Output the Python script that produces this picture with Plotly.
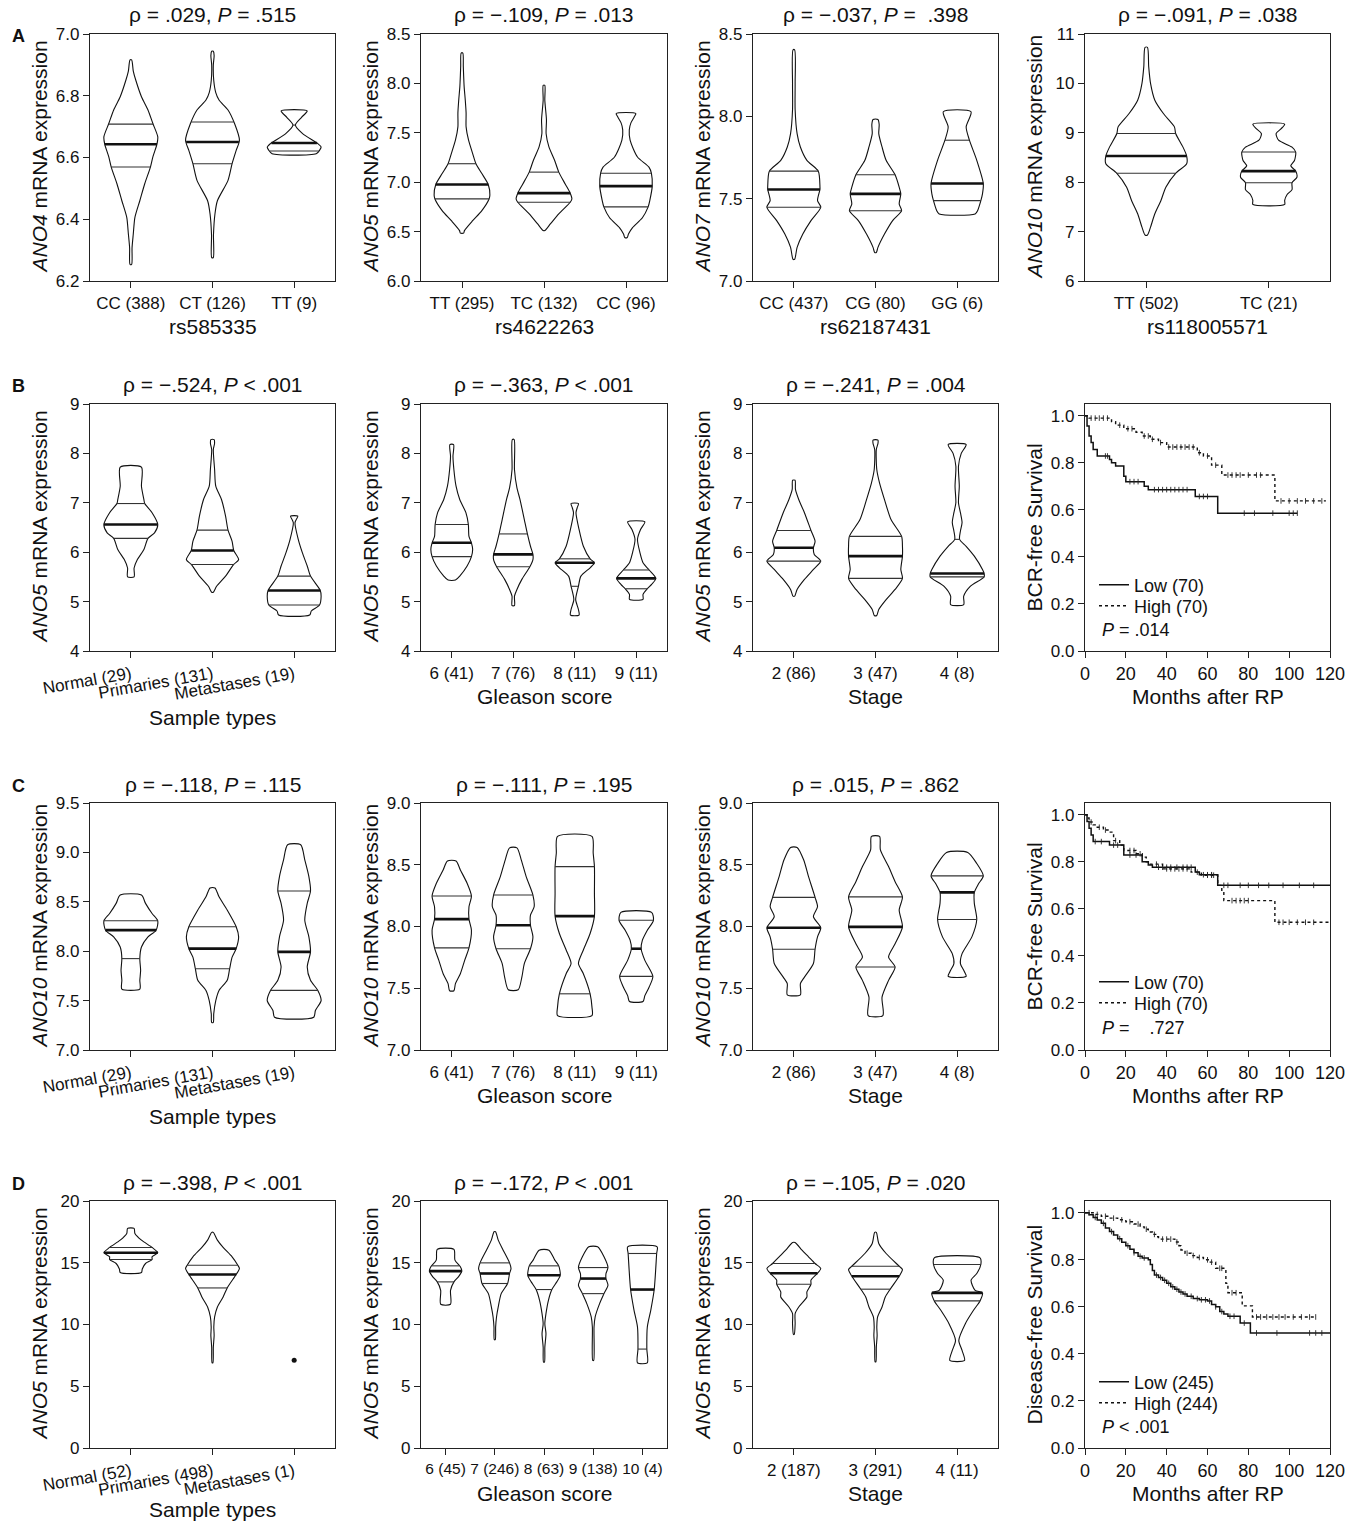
import numpy as np
import plotly.graph_objects as go

# ============================ DATA ============================
# Row A: SNP genotype vs expression (violin profiles: y levels, half-widths, quartiles [Q1, median, Q3])
A1_CATS = ["CC (388)", "CT (126)", "TT (9)"]
A1_Y = [[6.916, 6.88, 6.851, 6.797, 6.754, 6.710, 6.667, 6.643, 6.602, 6.569, 6.515, 6.460, 6.406, 6.352, 6.308, 6.254],
        [6.944, 6.93, 6.90, 6.85, 6.81, 6.786, 6.754, 6.71, 6.656, 6.623, 6.58, 6.526, 6.46, 6.417, 6.35, 6.276],
        [6.751, 6.73, 6.705, 6.678, 6.645, 6.634, 6.623, 6.612]]
A1_W = [[0.01, 0.03, 0.06, 0.13, 0.21, 0.27, 0.33, 0.32, 0.27, 0.24, 0.17, 0.11, 0.05, 0.03, 0.015, 0.01],
        [0.01, 0.02, 0.01, 0.015, 0.04, 0.08, 0.19, 0.27, 0.33, 0.29, 0.24, 0.19, 0.06, 0.03, 0.012, 0.01],
        [0.16, 0.09, 0.015, 0.1, 0.29, 0.33, 0.31, 0.27]]
A1_Q = [[6.569, 6.643, 6.708], [6.580, 6.650, 6.715], [6.621, 6.647, 6.705]]

A2_CATS = ["TT (295)", "TC (132)", "CC (96)"]
A2_Y = [[8.307, 8.17, 7.97, 7.83, 7.70, 7.56, 7.425, 7.29, 7.187, 7.09, 6.977, 6.87, 6.83, 6.71, 6.61, 6.51, 6.485],
        [7.98, 7.83, 7.63, 7.49, 7.357, 7.22, 7.102, 6.98, 6.889, 6.83, 6.797, 6.68, 6.58, 6.51],
        [7.696, 7.66, 7.60, 7.53, 7.425, 7.255, 7.153, 7.09, 6.96, 6.814, 6.75, 6.64, 6.54, 6.475, 6.44]]
A2_W = [[0.01, 0.016, 0.026, 0.04, 0.05, 0.05, 0.08, 0.13, 0.17, 0.24, 0.32, 0.34, 0.33, 0.24, 0.13, 0.03, 0.02],
        [0.01, 0.01, 0.03, 0.026, 0.06, 0.13, 0.18, 0.26, 0.32, 0.34, 0.32, 0.18, 0.08, 0.01],
        [0.12, 0.10, 0.06, 0.04, 0.05, 0.14, 0.28, 0.31, 0.32, 0.29, 0.27, 0.20, 0.08, 0.03, 0.015]]
A2_Q = [[6.831, 6.977, 7.187], [6.797, 6.889, 7.102], [6.75, 6.96, 7.09]]

A3_CATS = ["CC (437)", "CG (80)", "GG (6)"]
A3_Y = [[8.404, 8.20, 8.04, 7.895, 7.814, 7.733, 7.667, 7.57, 7.556, 7.488, 7.448, 7.367, 7.285, 7.204, 7.132],
        [7.981, 7.95, 7.895, 7.814, 7.733, 7.645, 7.57, 7.529, 7.468, 7.427, 7.367, 7.285, 7.204, 7.173],
        [8.028, 7.936, 7.855, 7.733, 7.592, 7.529, 7.488, 7.427, 7.407]]
A3_W = [[0.01, 0.016, 0.016, 0.04, 0.08, 0.16, 0.30, 0.32, 0.32, 0.29, 0.33, 0.21, 0.11, 0.04, 0.01],
        [0.03, 0.045, 0.04, 0.08, 0.13, 0.24, 0.29, 0.31, 0.29, 0.32, 0.21, 0.11, 0.03, 0.01],
        [0.17, 0.11, 0.15, 0.24, 0.32, 0.31, 0.29, 0.25, 0.22]]
A3_Q = [[7.448, 7.556, 7.667], [7.427, 7.529, 7.645], [7.488, 7.592, 7.855]]

A4_CATS = ["TT (502)", "TC (21)"]
A4_Y = [[10.73, 10.34, 10.0, 9.66, 9.39, 9.12, 8.985, 8.71, 8.53, 8.374, 8.18, 7.90, 7.63, 7.36, 7.09, 6.93],
        [9.175, 9.08, 8.985, 8.85, 8.71, 8.61, 8.44, 8.33, 8.225, 8.10, 7.99, 7.85, 7.75, 7.63, 7.55]]
A4_W = [[0.01, 0.02, 0.035, 0.07, 0.14, 0.23, 0.24, 0.30, 0.33, 0.33, 0.24, 0.16, 0.12, 0.07, 0.035, 0.01],
        [0.13, 0.10, 0.06, 0.08, 0.19, 0.22, 0.21, 0.18, 0.22, 0.23, 0.19, 0.19, 0.15, 0.13, 0.13]]
A4_Q = [[8.18, 8.53, 8.985], [7.99, 8.225, 8.61]]

# Row B: ANO5 (dataset 1)
B1_CATS = ["Normal (29)", "Primaries (131)", "Metastases (19)"]
B1_Y = [[7.72, 7.336, 7.066, 6.985, 6.80, 6.56, 6.39, 6.28, 6.055, 5.85, 5.68, 5.50],
        [8.28, 8.2, 8.08, 7.67, 7.336, 7.066, 6.73, 6.446, 6.22, 6.035, 5.85, 5.752, 5.516, 5.31, 5.19],
        [6.73, 6.66, 6.594, 6.26, 5.99, 5.72, 5.516, 5.226, 5.11, 4.93, 4.81, 4.728]]
B1_W = [[0.13, 0.13, 0.16, 0.17, 0.26, 0.33, 0.29, 0.21, 0.16, 0.08, 0.04, 0.04],
        [0.02, 0.025, 0.01, 0.026, 0.04, 0.11, 0.16, 0.19, 0.24, 0.26, 0.32, 0.26, 0.16, 0.05, 0.01],
        [0.045, 0.025, 0.01, 0.05, 0.10, 0.16, 0.20, 0.32, 0.33, 0.31, 0.21, 0.19]]
B1_Q = [[6.28, 6.56, 6.985], [5.752, 6.035, 6.446], [4.93, 5.226, 5.516]]

B2_CATS = ["6 (41)", "7 (76)", "8 (11)", "9 (11)"]
B2_Y = [[8.18, 7.94, 7.67, 7.336, 7.066, 6.80, 6.56, 6.32, 6.19, 6.055, 5.91, 5.72, 5.516, 5.435],
        [8.28, 7.67, 7.30, 7.066, 6.66, 6.37, 6.12, 5.955, 5.85, 5.705, 5.45, 5.246, 5.11, 4.92],
        [6.985, 6.90, 6.80, 6.46, 6.12, 5.866, 5.786, 5.685, 5.516, 5.31, 5.04, 4.84, 4.728],
        [6.614, 6.46, 6.26, 5.99, 5.786, 5.64, 5.47, 5.35, 5.26, 5.146, 5.045]]
B2_W = [[0.03, 0.02, 0.035, 0.07, 0.13, 0.23, 0.27, 0.28, 0.32, 0.34, 0.32, 0.25, 0.13, 0.06],
        [0.015, 0.02, 0.06, 0.11, 0.18, 0.23, 0.28, 0.32, 0.32, 0.27, 0.14, 0.06, 0.02, 0.02],
        [0.06, 0.04, 0.02, 0.07, 0.14, 0.25, 0.32, 0.25, 0.10, 0.06, 0.015, 0.06, 0.07],
        [0.14, 0.07, 0.02, 0.06, 0.11, 0.21, 0.32, 0.25, 0.18, 0.11, 0.11]]
B2_Q = [[5.91, 6.19, 6.56], [5.705, 5.955, 6.37], [5.31, 5.786, 5.866], [5.26, 5.47, 5.64]]

B3_CATS = ["2 (86)", "3 (47)", "4 (8)"]
B3_Y = [[7.457, 7.27, 7.066, 6.80, 6.44, 6.22, 6.09, 5.955, 5.82, 5.65, 5.45, 5.246, 5.11],
        [8.27, 8.2, 8.08, 7.67, 7.40, 7.066, 6.66, 6.32, 6.12, 5.92, 5.65, 5.47, 5.246, 5.04, 4.84, 4.72],
        [8.18, 8.0, 7.74, 7.336, 7.0, 6.80, 6.6, 6.43, 6.26, 6.12, 5.92, 5.65, 5.57, 5.50, 5.31, 5.11, 4.94]]
B3_W = [[0.015, 0.02, 0.06, 0.13, 0.21, 0.26, 0.24, 0.25, 0.33, 0.24, 0.13, 0.04, 0.01],
        [0.03, 0.03, 0.01, 0.016, 0.05, 0.11, 0.19, 0.32, 0.33, 0.33, 0.31, 0.33, 0.24, 0.13, 0.04, 0.015],
        [0.11, 0.05, 0.016, 0.026, 0.016, 0.04, 0.06, 0.04, 0.03, 0.11, 0.21, 0.31, 0.33, 0.33, 0.16, 0.08, 0.08]]
B3_Q = [[5.82, 6.09, 6.44], [5.47, 5.92, 6.32], [5.50, 5.57, 6.26]]

B4_LOW_T = [0, 1, 2, 3, 4, 6, 12, 13, 15, 19, 20, 29, 31, 54, 65, 104]
B4_LOW_S = [1.0, 0.957, 0.914, 0.886, 0.857, 0.829, 0.814, 0.80, 0.786, 0.743, 0.72, 0.70, 0.686, 0.657, 0.586, 0.586]
B4_LOW_C = [10, 11, 22, 24, 26, 34, 36, 38, 40, 42, 44, 46, 48, 50, 56, 58, 60, 78, 83, 92, 100, 102, 104]
B4_HIGH_T = [0, 2, 13, 15, 19, 25, 28, 32, 36, 40, 55, 58, 62, 67, 93, 118]
B4_HIGH_S = [1.0, 0.99, 0.975, 0.96, 0.945, 0.93, 0.914, 0.90, 0.886, 0.867, 0.843, 0.829, 0.79, 0.748, 0.638, 0.638]
B4_HIGH_C = [3, 5, 7, 9, 11, 17, 21, 23, 29, 31, 33, 37, 41, 43, 45, 47, 49, 51, 53, 56, 60, 64, 70, 72, 74, 76, 80, 84, 86, 96, 100, 104, 108, 112, 116]
B4_N = ["Low (70)", "High (70)"]

# Row C: ANO10 (dataset 1)
C1_CATS = ["Normal (29)", "Primaries (131)", "Metastases (19)"]
C1_Y = [[8.568, 8.484, 8.382, 8.308, 8.213, 8.145, 8.043, 7.925, 7.806, 7.705, 7.617],
        [8.64, 8.55, 8.416, 8.247, 8.145, 8.026, 7.94, 7.823, 7.705, 7.603, 7.50, 7.366, 7.28],
        [9.077, 8.924, 8.755, 8.609, 8.484, 8.314, 8.145, 7.993, 7.84, 7.705, 7.603, 7.50, 7.40, 7.332]]
C1_W = [[0.13, 0.18, 0.26, 0.33, 0.31, 0.21, 0.13, 0.11, 0.12, 0.11, 0.11],
        [0.03, 0.08, 0.18, 0.29, 0.32, 0.29, 0.24, 0.21, 0.18, 0.08, 0.04, 0.015, 0.01],
        [0.08, 0.13, 0.18, 0.20, 0.16, 0.13, 0.18, 0.20, 0.16, 0.20, 0.29, 0.33, 0.26, 0.24]]
C1_Q = [[7.925, 8.213, 8.308], [7.823, 8.026, 8.247], [7.603, 7.993, 8.609]]

C2_CATS = ["6 (41)", "7 (76)", "8 (11)", "9 (11)"]
C2_Y = [[8.531, 8.458, 8.35, 8.247, 8.16, 8.06, 7.97, 7.827, 7.726, 7.618, 7.537, 7.48],
        [8.637, 8.54, 8.404, 8.255, 8.16, 8.092, 8.01, 7.916, 7.82, 7.70, 7.59, 7.488],
        [8.729, 8.593, 8.485, 8.268, 8.084, 7.943, 7.81, 7.70, 7.618, 7.455, 7.347, 7.279],
        [8.114, 8.05, 7.97, 7.889, 7.82, 7.726, 7.596, 7.51, 7.44, 7.393]]
C2_W = [[0.07, 0.14, 0.25, 0.32, 0.28, 0.28, 0.32, 0.28, 0.21, 0.14, 0.06, 0.035],
        [0.06, 0.13, 0.21, 0.32, 0.34, 0.28, 0.28, 0.32, 0.28, 0.18, 0.14, 0.08],
        [0.28, 0.30, 0.32, 0.32, 0.32, 0.25, 0.14, 0.06, 0.14, 0.25, 0.28, 0.28],
        [0.25, 0.28, 0.18, 0.10, 0.08, 0.14, 0.27, 0.21, 0.14, 0.11]]
C2_Q = [[7.827, 8.06, 8.247], [7.82, 8.01, 8.255], [7.455, 8.084, 8.485], [7.596, 7.82, 8.05]]

C3_CATS = ["2 (86)", "3 (47)", "4 (8)"]
C3_Y = [[8.64, 8.54, 8.404, 8.236, 8.16, 8.08, 7.99, 7.916, 7.816, 7.70, 7.59, 7.537, 7.447],
        [8.729, 8.62, 8.485, 8.363, 8.24, 8.133, 7.997, 7.86, 7.753, 7.672, 7.564, 7.428, 7.279],
        [8.60, 8.51, 8.41, 8.344, 8.276, 8.187, 8.057, 7.916, 7.78, 7.70, 7.645, 7.596]]
C3_W = [[0.04, 0.12, 0.18, 0.26, 0.29, 0.24, 0.33, 0.29, 0.26, 0.24, 0.13, 0.08, 0.08],
        [0.05, 0.06, 0.16, 0.24, 0.33, 0.29, 0.33, 0.24, 0.16, 0.24, 0.16, 0.08, 0.09],
        [0.13, 0.24, 0.32, 0.26, 0.21, 0.21, 0.24, 0.18, 0.06, 0.04, 0.08, 0.11]]
C3_Q = [[7.816, 7.99, 8.236], [7.672, 7.997, 8.24], [8.057, 8.276, 8.41]]

C4_LOW_T = [0, 1, 2, 3, 4, 12, 19, 28, 31, 33, 54, 56, 65, 120]
C4_LOW_S = [1.0, 0.971, 0.943, 0.914, 0.886, 0.871, 0.829, 0.80, 0.786, 0.777, 0.757, 0.745, 0.70, 0.70]
C4_LOW_C = [5, 8, 14, 16, 22, 25, 36, 38, 40, 42, 45, 48, 50, 52, 58, 60, 62, 68, 70, 76, 80, 85, 90, 97, 105, 112]
C4_HIGH_T = [0, 1, 2, 4, 6, 9, 12, 14, 17, 19, 25, 28, 30, 32, 38, 52, 57, 65, 67, 68, 93, 120]
C4_HIGH_S = [1.0, 0.986, 0.969, 0.957, 0.947, 0.935, 0.926, 0.89, 0.871, 0.848, 0.834, 0.82, 0.80, 0.79, 0.77, 0.756, 0.743, 0.70, 0.675, 0.635, 0.543, 0.543]
C4_HIGH_C = [3, 7, 10, 15, 22, 24, 27, 35, 40, 42, 44, 46, 48, 50, 55, 60, 62, 63, 72, 74, 76, 78, 80, 95, 97, 100, 104, 108, 112]
C4_N = ["Low (70)", "High (70)"]

# Row D: ANO5 (dataset 2)
D1_CATS = ["Normal (52)", "Primaries (498)", "Metastases (1)"]
D1_Y = [[17.78, 17.37, 16.83, 16.24, 15.81, 15.48, 15.26, 14.94, 14.5, 14.21],
        [17.46, 16.83, 16.24, 15.48, 14.80, 14.53, 14.05, 12.96, 12.23, 11.42, 10.61, 9.80, 9.12, 8.17, 6.90]]
D1_W = [[0.04, 0.05, 0.13, 0.26, 0.33, 0.26, 0.26, 0.18, 0.14, 0.13],
        [0.01, 0.06, 0.13, 0.24, 0.31, 0.33, 0.29, 0.18, 0.13, 0.06, 0.026, 0.016, 0.02, 0.01, 0.005]]
D1_Q = [[15.26, 15.81, 16.24], [12.96, 14.05, 14.80]]
D1_SINGLE = [7.1]   # Metastases (1): single observation

D2_CATS = ["6 (45)", "7 (246)", "8 (63)", "9 (138)", "10 (4)"]
D2_Y = [[16.08, 15.21, 14.67, 14.32, 13.86, 13.45, 12.77, 11.64],
        [17.51, 16.83, 16.02, 14.99, 14.53, 14.13, 13.32, 12.50, 11.42, 10.61, 9.8, 8.77],
        [16.02, 15.21, 14.75, 13.99, 13.45, 12.83, 11.96, 10.88, 10.07, 9.26, 8.17, 6.96],
        [16.29, 15.48, 14.61, 14.13, 13.72, 13.18, 12.50, 11.69, 10.61, 9.8, 7.09],
        [16.29, 15.75, 12.83, 11.15, 9.80, 8.01, 6.90]]
D2_W = [[0.17, 0.19, 0.30, 0.33, 0.26, 0.17, 0.10, 0.10],
        [0.015, 0.07, 0.17, 0.30, 0.33, 0.30, 0.26, 0.13, 0.07, 0.035, 0.017, 0.01],
        [0.10, 0.22, 0.30, 0.33, 0.26, 0.16, 0.09, 0.04, 0.017, 0.04, 0.017, 0.01],
        [0.09, 0.22, 0.30, 0.26, 0.26, 0.30, 0.22, 0.13, 0.04, 0.017, 0.01],
        [0.30, 0.29, 0.24, 0.17, 0.10, 0.09, 0.10]]
D2_Q = [[13.45, 14.32, 14.75], [13.32, 14.13, 14.99], [12.83, 13.99, 14.75], [12.50, 13.72, 14.61], [8.01, 12.83, 15.75]]

D3_CATS = ["2 (187)", "3 (291)", "4 (11)"]
D3_Y = [[16.64, 16.02, 15.48, 14.94, 14.53, 14.15, 13.59, 13.26, 12.64, 12.23, 11.42, 10.88, 10.07, 9.2],
        [17.46, 16.56, 15.75, 14.72, 14.45, 13.91, 12.86, 12.23, 11.42, 10.61, 9.80, 9.12, 8.17, 6.98],
        [15.40, 14.86, 14.13, 13.59, 12.77, 12.56, 11.91, 11.15, 10.07, 8.71, 7.90, 7.09]]
D3_W = [[0.015, 0.1, 0.18, 0.26, 0.33, 0.29, 0.21, 0.21, 0.16, 0.16, 0.06, 0.016, 0.016, 0.005],
        [0.01, 0.04, 0.13, 0.29, 0.33, 0.29, 0.18, 0.12, 0.08, 0.026, 0.016, 0.02, 0.01, 0.005],
        [0.28, 0.29, 0.24, 0.17, 0.22, 0.31, 0.28, 0.20, 0.10, 0.02, 0.06, 0.09]]
D3_Q = [[13.26, 14.15, 14.94], [12.86, 13.91, 14.72], [11.91, 12.56, 14.86]]

D4_LOW_T = [0, 2, 4, 6, 8, 10, 12, 14, 16, 18, 20, 22, 24, 26, 28, 31, 32, 33, 34, 36, 38, 40, 42, 44, 46, 48, 50, 53, 56, 60, 62, 64, 66, 68, 70, 76, 81, 120]
D4_LOW_S = [1.0, 0.992, 0.98, 0.969, 0.955, 0.935, 0.92, 0.905, 0.89, 0.875, 0.86, 0.845, 0.83, 0.815, 0.808, 0.80, 0.78, 0.755, 0.735, 0.725, 0.713, 0.70, 0.685, 0.675, 0.663, 0.655, 0.645, 0.635, 0.63, 0.625, 0.61, 0.60, 0.58, 0.57, 0.56, 0.531, 0.489, 0.489]
D4_LOW_C = [5, 9, 13, 17, 21, 24, 27, 29, 35, 37, 39, 41, 43, 45, 47, 49, 52, 55, 57, 59, 61, 64, 67, 71, 73, 78, 84, 94, 110, 113, 116]
D4_HIGH_T = [0, 4, 8, 12, 16, 20, 24, 27, 29, 31, 33, 35, 36, 44, 46, 47, 49, 52, 55, 58, 61, 64, 69, 70, 77, 82, 113]
D4_HIGH_S = [1.0, 0.993, 0.985, 0.977, 0.97, 0.962, 0.952, 0.94, 0.93, 0.918, 0.908, 0.898, 0.888, 0.876, 0.86, 0.842, 0.828, 0.818, 0.81, 0.80, 0.79, 0.764, 0.70, 0.66, 0.604, 0.557, 0.557]
D4_HIGH_C = [2, 6, 10, 14, 18, 22, 26, 30, 34, 38, 40, 42, 45, 50, 53, 56, 60, 62, 66, 67, 72, 74, 84, 86, 89, 92, 95, 98, 102, 106, 110, 113]
D4_N = ["Low (245)", "High (244)"]

# Panel texts
TITLES = ["ρ = .029, <i>P</i> = .515", "ρ = −.109, <i>P</i> = .013", "ρ = −.037, <i>P</i> =\u00a0 .398", "ρ = −.091, <i>P</i> = .038",
          "ρ = −.524, <i>P</i> < .001", "ρ = −.363, <i>P</i> < .001", "ρ = −.241, <i>P</i> = .004", None,
          "ρ = −.118, <i>P</i> = .115", "ρ = −.111, <i>P</i> = .195", "ρ = .015, <i>P</i> = .862", None,
          "ρ = −.398, <i>P</i> < .001", "ρ = −.172, <i>P</i> < .001", "ρ = −.105, <i>P</i> = .020", None]
YTITLES = ["<i>ANO4</i> mRNA expression", "<i>ANO5</i> mRNA expression", "<i>ANO7</i> mRNA expression", "<i>ANO10</i> mRNA expression",
           "<i>ANO5</i> mRNA expression", "<i>ANO5</i> mRNA expression", "<i>ANO5</i> mRNA expression", "BCR-free Survival",
           "<i>ANO10</i> mRNA expression", "<i>ANO10</i> mRNA expression", "<i>ANO10</i> mRNA expression", "BCR-free Survival",
           "<i>ANO5</i> mRNA expression", "<i>ANO5</i> mRNA expression", "<i>ANO5</i> mRNA expression", "Disease-free Survival"]
XTITLES = ["rs585335", "rs4622263", "rs62187431", "rs118005571",
           "Sample types", "Gleason score", "Stage", "Months after RP",
           "Sample types", "Gleason score", "Stage", "Months after RP",
           "Sample types", "Gleason score", "Stage", "Months after RP"]
PVALS = ["<i>P</i> = .014", "<i>P</i> =\u00a0\u00a0\u00a0 .727", "<i>P</i> < .001"]

# ============================ LAYOUT / STYLE ============================
FW, FH = 1359, 1522
FONT = "Liberation Sans, Arial, sans-serif"
COLS = [(90, 335), (421, 667), (753, 998), (1085, 1330)]
ROWS = [(34, 281), (404, 651), (803, 1050), (1201, 1448)]
XTITLE_OFF_ROT = [66, 66, 66, 61]   # offset of x-title below axis when tick labels are slanted
YRANGES = [(6.2, 7.0, 0.2, ".1f"), (6.0, 8.5, 0.5, ".1f"), (7.0, 8.5, 0.5, ".1f"), (6, 11, 1, "d"),
           (4, 9, 1, "d"), (4, 9, 1, "d"), (4, 9, 1, "d"), (0, 1.05, 0.2, ".1f"),
           (7.0, 9.5, 0.5, ".1f"), (7.0, 9.0, 0.5, ".1f"), (7.0, 9.0, 0.5, ".1f"), (0, 1.05, 0.2, ".1f"),
           (0, 20, 5, "d"), (0, 20, 5, "d"), (0, 20, 5, "d"), (0, 1.05, 0.2, ".1f")]
# legend anchor rows (px) for KM panels: Low, High, P-value
KM_TEXT_ROWS = [(585, 606, 630), (982, 1003, 1028), (1382, 1403, 1427)]

fig = go.Figure()
annotations = []


def px2x(p):
    return p / FW


def px2y(p):
    return 1 - p / FH


def add_violin(k, center, ys, ws, qs):
    ys = np.asarray(ys, float)
    ws = np.asarray(ws, float)
    xs = np.concatenate([center + ws, (center - ws)[::-1], [center + ws[0]]])
    yy = np.concatenate([ys, ys[::-1], [ys[0]]])
    fig.add_trace(go.Scatter(x=xs, y=yy, mode="lines", xaxis=f"x{k}", yaxis=f"y{k}",
                             line=dict(color="#111", width=1.1, shape="spline", smoothing=0.7),
                             showlegend=False, hoverinfo="skip"))
    order = np.argsort(ys)
    for i, q in enumerate(qs):
        wq = float(np.interp(q, ys[order], ws[order]))
        fig.add_trace(go.Scatter(x=[center - wq, center + wq], y=[q, q], mode="lines",
                                 xaxis=f"x{k}", yaxis=f"y{k}",
                                 line=dict(color="#111" if i == 1 else "#333", width=2.6 if i == 1 else 1.1),
                                 showlegend=False, hoverinfo="skip"))


def step_at(ts, ss, t):
    idx = np.searchsorted(np.asarray(ts), t, side="right") - 1
    return ss[max(idx, 0)]


def add_km(k, legends, names, low, high):
    for (t, s, c), name, dash, w, leg in [(low, names[0], "solid", 1.5, legends[0]),
                                          (high, names[1], "dot", 1.4, legends[1])]:
        fig.add_trace(go.Scatter(x=t, y=s, mode="lines", name=name, legend=leg,
                                 xaxis=f"x{k}", yaxis=f"y{k}",
                                 line=dict(color="#111", width=w, shape="hv", dash=dash),
                                 hoverinfo="skip"))
        cy = [step_at(t, s, ci) for ci in c]
        fig.add_trace(go.Scatter(x=c, y=cy, mode="markers", xaxis=f"x{k}", yaxis=f"y{k}",
                                 marker=dict(symbol="line-ns", size=4, line=dict(color="#222", width=0.9)),
                                 showlegend=False, hoverinfo="skip"))


VIOLINS = {1: (A1_Y, A1_W, A1_Q), 2: (A2_Y, A2_W, A2_Q), 3: (A3_Y, A3_W, A3_Q), 4: (A4_Y, A4_W, A4_Q),
           5: (B1_Y, B1_W, B1_Q), 6: (B2_Y, B2_W, B2_Q), 7: (B3_Y, B3_W, B3_Q),
           9: (C1_Y, C1_W, C1_Q), 10: (C2_Y, C2_W, C2_Q), 11: (C3_Y, C3_W, C3_Q),
           13: (D1_Y, D1_W, D1_Q), 14: (D2_Y, D2_W, D2_Q), 15: (D3_Y, D3_W, D3_Q)}
CATS = {1: A1_CATS, 2: A2_CATS, 3: A3_CATS, 4: A4_CATS, 5: B1_CATS, 6: B2_CATS, 7: B3_CATS,
        9: C1_CATS, 10: C2_CATS, 11: C3_CATS, 13: D1_CATS, 14: D2_CATS, 15: D3_CATS}

for k, (Ys, Ws, Qs) in VIOLINS.items():
    for i, (ys, ws, qs) in enumerate(zip(Ys, Ws, Qs)):
        add_violin(k, i, ys, ws, qs)

fig.add_trace(go.Scatter(x=[2] * len(D1_SINGLE), y=D1_SINGLE, mode="markers", xaxis="x13", yaxis="y13",
                         marker=dict(color="#111", size=5), showlegend=False, hoverinfo="skip"))

add_km(8, ("legend", "legend2"), B4_N, (B4_LOW_T, B4_LOW_S, B4_LOW_C), (B4_HIGH_T, B4_HIGH_S, B4_HIGH_C))
add_km(12, ("legend3", "legend4"), C4_N, (C4_LOW_T, C4_LOW_S, C4_LOW_C), (C4_HIGH_T, C4_HIGH_S, C4_HIGH_C))
add_km(16, ("legend5", "legend6"), D4_N, (D4_LOW_T, D4_LOW_S, D4_LOW_C), (D4_HIGH_T, D4_HIGH_S, D4_HIGH_C))

axis_common = dict(showline=True, linecolor="#222", linewidth=1.4, mirror=True, ticks="outside",
                   ticklen=6, tickwidth=1.3, tickcolor="#222", showgrid=False, zeroline=False,
                   tickfont=dict(family=FONT, size=17, color="#111"), automargin=False)
layout = {}
for k in range(1, 17):
    r, c = (k - 1) // 4, (k - 1) % 4
    x0, x1 = COLS[c]
    y0, y1 = ROWS[r]
    lo, hi, dt, fmt = YRANGES[k - 1]
    xa = dict(axis_common, domain=[px2x(x0), px2x(x1)], anchor=f"y{k}")
    slanted = (c == 0 and r > 0)
    if k in CATS:
        n = len(CATS[k])
        xa.update(range=[-0.5, n - 0.5], tickmode="array", tickvals=list(range(n)), ticktext=CATS[k],
                  tickangle=-10 if slanted else 0)
        if n == 5:
            xa.update(tickfont=dict(family=FONT, size=15.5, color="#111"))
    else:
        xa.update(range=[0, 120], tickmode="linear", tick0=0, dtick=20, tickangle=0,
                  tickfont=dict(family=FONT, size=18, color="#111"))
    ya = dict(axis_common, domain=[px2y(y1), px2y(y0)], anchor=f"x{k}", range=[lo, hi],
              tickmode="linear", tick0=0 if lo == 0 else lo, dtick=dt, tickformat=fmt,
              tickfont=dict(family=FONT, size=17, color="#111"))
    layout[f"xaxis{'' if k == 1 else k}"] = xa
    layout[f"yaxis{'' if k == 1 else k}"] = ya

    cx = (x0 + x1) / 2
    if TITLES[k - 1]:
        annotations.append(dict(text=TITLES[k - 1], x=px2x(cx), y=px2y(y0 - 19), xref="paper", yref="paper",
                                showarrow=False, xanchor="center", yanchor="middle",
                                font=dict(family=FONT, size=21, color="#111")))
    annotations.append(dict(text=YTITLES[k - 1], x=px2x(x0 - 51), y=px2y((y0 + y1) / 2), xref="paper",
                            yref="paper", showarrow=False, textangle=-90, xanchor="center", yanchor="middle",
                            font=dict(family=FONT, size=21, color="#111")))
    xt_off = XTITLE_OFF_ROT[r] if slanted else 45
    annotations.append(dict(text=XTITLES[k - 1], x=px2x(cx), y=px2y(y1 + xt_off), xref="paper", yref="paper",
                            showarrow=False, xanchor="center", yanchor="middle",
                            font=dict(family=FONT, size=21, color="#111")))

for letter, py in zip("ABCD", [36, 386, 786, 1184]):
    annotations.append(dict(text=f"<b>{letter}</b>", x=px2x(18), y=px2y(py), xref="paper", yref="paper",
                            showarrow=False, xanchor="center", yanchor="middle",
                            font=dict(family=FONT, size=18, color="#111")))

leg_common = dict(xanchor="left", yanchor="middle", bgcolor="rgba(0,0,0,0)", borderwidth=0,
                  font=dict(family=FONT, size=18, color="#111"), itemwidth=30)
for j, (ylow, yhigh, yp) in enumerate(KM_TEXT_ROWS):
    layout["legend" if j == 0 else f"legend{2 * j + 1}"] = dict(leg_common, x=px2x(1094), y=px2y(ylow))
    layout[f"legend{2 * j + 2}"] = dict(leg_common, x=px2x(1094), y=px2y(yhigh))
    annotations.append(dict(text=PVALS[j], x=px2x(1100), y=px2y(yp), xref="paper", yref="paper",
                            showarrow=False, xanchor="left", yanchor="middle",
                            font=dict(family=FONT, size=18, color="#111")))

fig.update_layout(width=FW, height=FH, margin=dict(l=0, r=0, t=0, b=0), template="none",
                  paper_bgcolor="white", plot_bgcolor="white", font=dict(family=FONT, color="#111"),
                  annotations=annotations, showlegend=True, **layout)

fig.write_html("out.html", config={"displayModeBar": False},
               post_script="document.body.style.margin='0';document.body.style.overflow='hidden';")
